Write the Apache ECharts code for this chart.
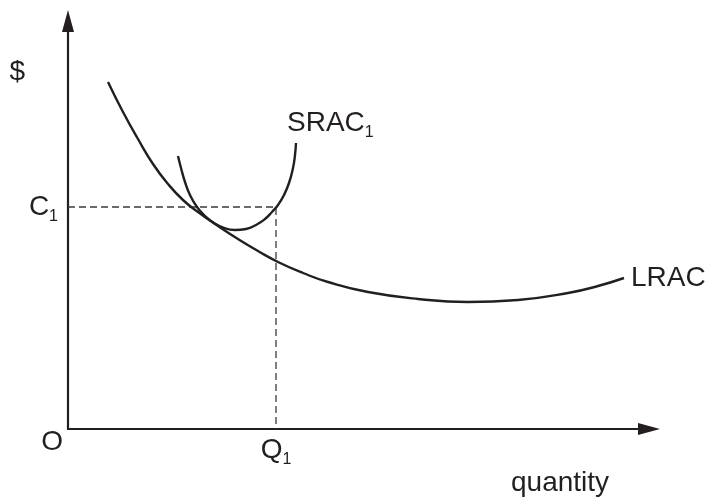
<!DOCTYPE html>
<html>
<head>
<meta charset="utf-8">
<script src="https://cdn.jsdelivr.net/npm/echarts@6/dist/echarts.min.js"></script>
<style>
  html, body { margin: 0; padding: 0; background: #fff; }
  #chart { width: 709px; height: 500px; }
</style>
</head>
<body>
<div id="chart"></div>
<script>
// long run average cost curve (quantity, cost)
var lracQ = [40, 55, 70, 85, 100, 115, 130, 150, 170, 190, 210, 235, 260, 300, 350, 400, 450, 500, 530, 556];
var lracC = [347, 317, 290, 265, 245, 229, 217, 203, 190, 178, 167, 156, 147, 137, 130, 127, 129, 136, 143, 151];

// short run average cost curve
var sracQ = [110, 113, 117, 122, 129, 137, 146, 156, 167, 178, 188, 197, 204, 210, 216, 221, 225, 227, 228];
var sracC = [273, 261, 247, 234, 222, 213, 206, 201, 199, 200, 204, 210, 217, 224, 234, 246, 261, 274, 286];

var q1 = 208;  // Q1
var c1 = 222;  // C1

var ink = '#231f20';
var font = 'Liberation Sans, Arial, sans-serif';

function zip(a, b) {
  return a.map(function (v, i) { return [v, b[i]]; });
}

var rich = {
  m: { fontSize: 28, color: ink, fontFamily: font },
  s: { fontSize: 16, color: ink, fontFamily: font, padding: [20, 0, 0, 0] },
  sr: { fontSize: 16, color: ink, fontFamily: font, padding: [20, 5, 0, 0] },
  o: { fontSize: 28, color: ink, fontFamily: font, padding: [26, 0, 0, 0] }
};

var chart = echarts.init(document.getElementById('chart'));

var option = {
  animation: false,
  grid: { left: 68, right: 60, top: 21, bottom: 71 },
  xAxis: {
    type: 'value',
    min: 0,
    max: 581,
    name: 'quantity',
    nameLocation: 'end',
    nameGap: -138,
    nameTextStyle: {
      fontSize: 28, color: ink, fontFamily: font,
      align: 'left', verticalAlign: 'top', padding: [40, 0, 0, 0]
    },
    axisLine: {
      onZero: false,
      symbol: ['none', 'triangle'],
      symbolSize: [12, 22],
      lineStyle: { color: ink, width: 2.2 }
    },
    axisTick: { show: false },
    splitLine: { show: false },
    axisLabel: {
      customValues: [q1],
      margin: 3,
      verticalAlign: 'top',
      formatter: function () { return '{m|Q}{s|1}'; },
      rich: rich
    }
  },
  yAxis: {
    type: 'value',
    min: 0,
    max: 408,
    name: '$',
    nameLocation: 'end',
    nameGap: -65,
    nameTextStyle: {
      fontSize: 28, color: ink, fontFamily: font,
      align: 'right', verticalAlign: 'bottom', padding: [0, 43, 0, 0]
    },
    axisLine: {
      onZero: false,
      symbol: ['none', 'triangle'],
      symbolSize: [12, 22],
      lineStyle: { color: ink, width: 2.2 }
    },
    axisTick: { show: false },
    splitLine: { show: false },
    axisLabel: {
      customValues: [0, c1],
      margin: 5,
      formatter: function (v) {
        return v === 0 ? '{o|O}' : '{m|C}{sr|1}';
      },
      rich: rich
    }
  },
  series: [
    {
      name: 'guides',
      type: 'line',
      data: [[0, c1], [q1, c1], [q1, 0]],
      showSymbol: false,
      silent: true,
      lineStyle: { color: '#3a3a3a', width: 1.3, type: [7, 4] }
    },
    {
      name: 'LRAC',
      type: 'line',
      data: zip(lracQ, lracC),
      smooth: 0.5,
      showSymbol: false,
      lineStyle: { color: ink, width: 2.4 },
      endLabel: {
        show: true,
        distance: 7,
        formatter: '{m|LRAC}',
        rich: rich
      }
    },
    {
      name: 'SRAC1',
      type: 'line',
      data: zip(sracQ, sracC),
      smooth: 0.5,
      showSymbol: false,
      lineStyle: { color: ink, width: 2.4 },
      endLabel: {
        show: true,
        distance: 0,
        offset: [-9, -20],
        formatter: '{m|SRAC}{s|1}',
        rich: rich
      }
    }
  ]
};

chart.setOption(option);
</script>
</body>
</html>
